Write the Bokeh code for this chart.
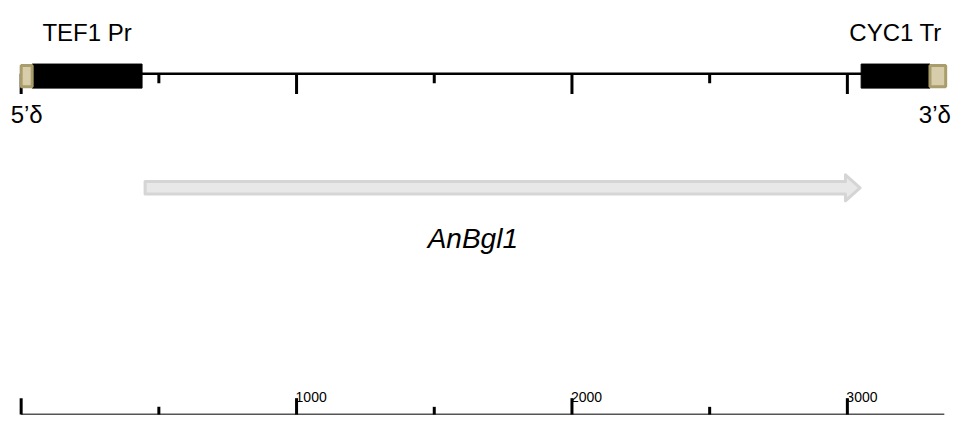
from bokeh.plotting import figure
from bokeh.models import Range1d
from bokeh.core.properties import value
from bokeh.embed import file_html
from bokeh.resources import INLINE

# ---- data (base pairs) ----
construct_len = 3352
feat_names = ["5\u2019\u03b4", "TEF1 Pr", "CYC1 Tr", "3\u2019\u03b4"]
feat_start = [0, 40, 3050, 3300]
feat_end = [40, 439, 3300, 3357]
feat_kind = ["delta", "element", "element", "delta"]
gene_name = "AnBgl1"
gene_start = 450
gene_end = 3046
tick_pos = [0, 500, 1000, 1500, 2000, 2500, 3000]
major_pos = [0, 1000, 2000, 3000]
major_labels = ["", "1000", "2000", "3000"]

FONT = value("Liberation Sans")

p = figure(width=954, height=415, output_backend="svg", toolbar_location=None,
           x_range=Range1d(-75, 3389), y_range=Range1d(431, 0),
           min_border=0, outline_line_color=None)
p.axis.visible = False
p.grid.visible = False

# ---- construct map ----
Y_LINE = 76
Y_BOX_TOP, Y_BOX_BOT = 66, 91
maj = [t in major_pos for t in tick_pos]
p.segment(x0=tick_pos, x1=tick_pos, y0=[Y_LINE] * len(tick_pos),
          y1=[97 if m else 86 for m in maj], line_color="black", line_width=3)
p.segment(x0=[0], x1=[construct_len], y0=[Y_LINE], y1=[Y_LINE],
          line_color="black", line_width=2.5)

el = [i for i, k in enumerate(feat_kind) if k == "element"]
de = [i for i, k in enumerate(feat_kind) if k == "delta"]
p.quad(left=[feat_start[i] for i in el], right=[feat_end[i] for i in el],
       top=Y_BOX_TOP, bottom=Y_BOX_BOT, fill_color="black", line_color="black", line_width=1)
p.quad(left=[feat_start[i] for i in de], right=[feat_end[i] for i in de],
       top=Y_BOX_TOP + 1.5, bottom=Y_BOX_BOT - 1.5, fill_color="#d7cdaa",
       line_color="#a99d6b", line_width=3)

# labels of elements (above) and delta sites (below)
p.text(x=[(feat_start[i] + feat_end[i]) / 2 for i in el], y=[33] * len(el),
       text=[feat_names[i] for i in el], text_font=FONT, text_font_size="24px",
       text_align="center", text_baseline="alphabetic", text_color="black")
p.text(x=[(feat_start[de[0]] + feat_end[de[0]]) / 2], y=[118], text=[feat_names[de[0]]],
       text_font=FONT, text_font_size="24px", text_align="center",
       text_baseline="alphabetic", text_color="black")
p.text(x=[(feat_start[de[1]] + feat_end[de[1]]) / 2], y=[118], text=[feat_names[de[1]]],
       text_font=FONT, text_font_size="24px", text_align="center",
       text_baseline="alphabetic", text_color="black", x_offset=-3)

# ---- gene arrow ----
head = 53
sh_top, sh_bot, hd_top, hd_bot = 188, 201, 181, 208
yc = (sh_top + sh_bot) / 2
xs = [gene_start, gene_end - head, gene_end - head, gene_end, gene_end - head, gene_end - head, gene_start]
ys = [sh_top, sh_top, hd_top, yc, hd_bot, sh_bot, sh_bot]
p.patch(x=xs, y=ys, fill_color="#e8e8e8", line_color="#d5d5d5", line_width=3, line_join="round")
p.text(x=[1640], y=[247], text=[gene_name], text_font=FONT, text_font_size="28px",
       text_font_style="italic", text_align="center", text_baseline="alphabetic",
       text_color="black")

# ---- scale bar ----
Y_AX = 430
p.segment(x0=[0], x1=[construct_len], y0=[Y_AX], y1=[Y_AX], line_color="#555555", line_width=2)
p.segment(x0=tick_pos, x1=tick_pos, y0=[Y_AX] * len(tick_pos),
          y1=[413 if m else 422 for m in maj], line_color="black", line_width=3)
p.text(x=major_pos, y=[412] * len(major_pos), text=major_labels, text_font=FONT,
       text_font_size="14px", text_align="left", text_baseline="alphabetic",
       text_color="black", x_offset=-1)

open("out.html", "w").write(file_html(p, INLINE))
